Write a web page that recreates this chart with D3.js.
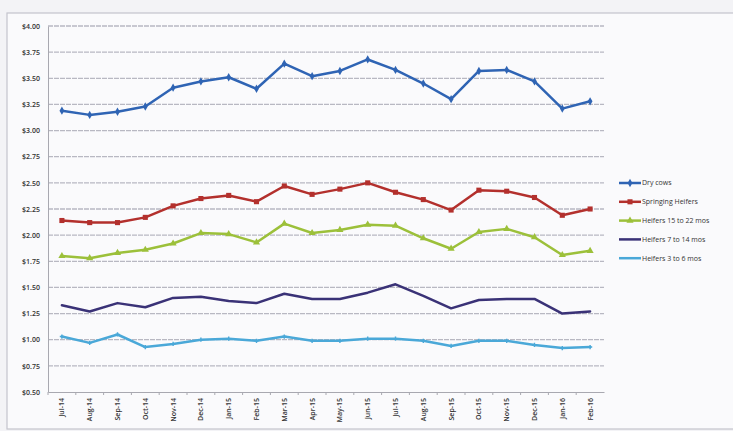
<!DOCTYPE html>
<html>
<head>
<meta charset="utf-8">
<script src="https://cdn.jsdelivr.net/npm/d3@7"></script>
<style>
  html, body { margin: 0; padding: 0; background: #f3f3f6; }
  svg { display: block; }
  text { font-family: "Open Sans", "Liberation Sans", sans-serif; fill: #333; }
</style>
</head>
<body>
<svg id="chart" width="733" height="431"></svg>
<script>
// Monthly price per pound, Jul-14 through Feb-16
const months = ["Jul-14","Aug-14","Sep-14","Oct-14","Nov-14","Dec-14","Jan-15","Feb-15","Mar-15","Apr-15",
                "May-15","Jun-15","Jul-15","Aug-15","Sep-15","Oct-15","Nov-15","Dec-15","Jan-16","Feb-16"];

const dryCows          = [3.19,3.15,3.18,3.23,3.41,3.47,3.51,3.40,3.64,3.52,3.57,3.68,3.58,3.45,3.30,3.57,3.58,3.47,3.21,3.28];
const springingHeifers = [2.14,2.12,2.12,2.17,2.28,2.35,2.38,2.32,2.47,2.39,2.44,2.50,2.41,2.34,2.24,2.43,2.42,2.36,2.19,2.25];
const heifers15to22    = [1.80,1.78,1.83,1.86,1.92,2.02,2.01,1.93,2.11,2.02,2.05,2.10,2.09,1.97,1.87,2.03,2.06,1.98,1.81,1.85];
const heifers7to14     = [1.33,1.27,1.35,1.31,1.40,1.41,1.37,1.35,1.44,1.39,1.39,1.45,1.53,1.42,1.30,1.38,1.39,1.39,1.25,1.27];
const heifers3to6      = [1.03,0.97,1.05,0.93,0.96,1.00,1.01,0.99,1.03,0.99,0.99,1.01,1.01,0.99,0.94,0.99,0.99,0.95,0.92,0.93];

const seriesNames  = ["Dry cows", "Springing Heifers", "Heifers  15 to 22 mos", "Heifers  7 to 14 mos", "Heifers 3 to 6 mos"];
const seriesColors = ["#2f64b4", "#b3302d", "#9cc03a", "#3a3277", "#4aa8d8"];
const seriesMarkers = [d3.symbolDiamond, d3.symbolSquare, d3.symbolTriangle, null, d3.symbolCross];
const markerSizes   = [20, 26, 22, 0, 10];
const yTicks = [0.5, 0.75, 1.0, 1.25, 1.5, 1.75, 2.0, 2.25, 2.5, 2.75, 3.0, 3.25, 3.5, 3.75, 4.0];

const series = [dryCows, springingHeifers, heifers15to22, heifers7to14, heifers3to6].map((vals, i) => ({
  name: seriesNames[i], color: seriesColors[i], marker: seriesMarkers[i], size: markerSizes[i],
  points: vals.map((v, j) => ({ month: months[j], value: v }))
}));

const svg = d3.select("#chart");

// Outer chart frame
svg.append("rect").attr("x", 7).attr("y", 13).attr("width", 740).attr("height", 416)
  .attr("fill", "#fafafc").attr("stroke", "#c4c4cc").attr("stroke-width", 1.2);

const plot = { left: 48, right: 604, top: 26, bottom: 392 };

const x = d3.scaleBand().domain(months).range([plot.left, plot.right]);
const y = d3.scaleLinear().domain([0.5, 4.0]).range([plot.bottom, plot.top]);

// Horizontal gridlines
svg.append("g").selectAll("line").data(yTicks.slice(1)).join("line")
  .attr("x1", plot.left).attr("x2", plot.right)
  .attr("y1", d => y(d)).attr("y2", d => y(d))
  .attr("stroke", "#b8b8c2").attr("stroke-width", 1.3).attr("stroke-dasharray", "5,1");

// Y axis
const yAxis = svg.append("g").attr("transform", `translate(${plot.left},0)`)
  .call(d3.axisLeft(y).tickValues(yTicks).tickSize(0).tickPadding(8).tickFormat(d => "$" + d.toFixed(2)));
yAxis.select(".domain").attr("stroke", "#a8a8b0");
yAxis.selectAll("text").attr("font-size", 7).attr("font-weight", 600).attr("fill", "#3a3a40");

// X axis
const xAxis = svg.append("g").attr("transform", `translate(0,${plot.bottom})`)
  .call(d3.axisBottom(x).tickSize(0).tickPadding(0));
xAxis.select(".domain").attr("stroke", "#a8a8b0");
xAxis.selectAll("text")
  .attr("font-size", 7).attr("font-weight", 600).attr("fill", "#3a3a40")
  .attr("text-anchor", "end")
  .attr("transform", "rotate(-90)")
  .attr("x", -6).attr("y", 0).attr("dy", "0.35em");
// Tick marks at category boundaries
svg.append("g").selectAll("line").data(months).join("line")
  .attr("x1", d => x(d)).attr("x2", d => x(d))
  .attr("y1", plot.bottom).attr("y2", plot.bottom + 3)
  .attr("stroke", "#a8a8b0");

// Series lines and markers
const line = d3.line().x(d => x(d.month) + x.bandwidth() / 2).y(d => y(d.value));
const gSeries = svg.append("g");
series.forEach(s => {
  gSeries.append("path").datum(s.points)
    .attr("d", line).attr("fill", "none")
    .attr("stroke", s.color).attr("stroke-width", 2.5)
    .attr("stroke-linejoin", "round").attr("stroke-linecap", "round");
  if (s.marker) {
    gSeries.append("g").selectAll("path").data(s.points).join("path")
      .attr("transform", d => `translate(${x(d.month) + x.bandwidth() / 2},${y(d.value)})`)
      .attr("d", d3.symbol().type(s.marker).size(s.size))
      .attr("fill", s.color);
  }
});

// Legend
const legend = svg.append("g").attr("transform", "translate(619,183)");
series.forEach((s, i) => {
  const row = legend.append("g").attr("transform", `translate(0,${i * 18.8})`);
  row.append("line").attr("x1", 0).attr("x2", 22).attr("y1", 0).attr("y2", 0)
    .attr("stroke", s.color).attr("stroke-width", 2.5);
  if (s.marker && s.marker !== d3.symbolCross) {
    row.append("path").attr("transform", "translate(11,0)")
      .attr("d", d3.symbol().type(s.marker).size(s.size)).attr("fill", s.color);
  }
  row.append("text").attr("x", 23).attr("y", 0).attr("dy", "0.35em")
    .attr("font-size", 7).attr("fill", "#3a3a40").text(s.name);
});
</script>
</body>
</html>
